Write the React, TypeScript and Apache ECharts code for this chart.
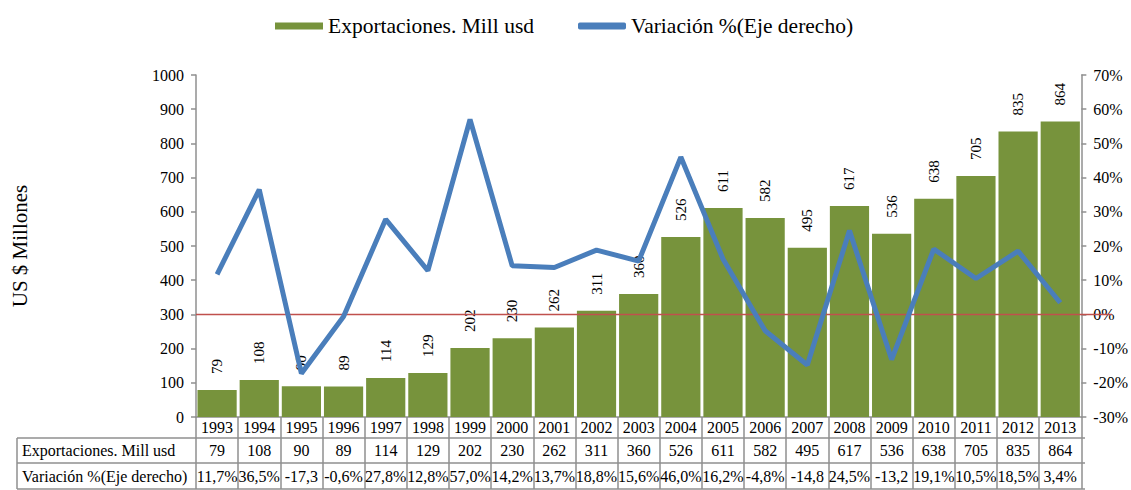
import React, { useEffect, useRef } from 'react';
import * as echarts from 'echarts';

const years = ['1993', '1994', '1995', '1996', '1997', '1998', '1999', '2000', '2001', '2002', '2003', '2004', '2005', '2006', '2007', '2008', '2009', '2010', '2011', '2012', '2013'];
const exportsMill = [79, 108, 90, 89, 114, 129, 202, 230, 262, 311, 360, 526, 611, 582, 495, 617, 536, 638, 705, 835, 864];
const variation = [11.7, 36.5, -17.3, -0.6, 27.8, 12.8, 57.0, 14.2, 13.7, 18.8, 15.6, 46.0, 16.2, -4.8, -14.8, 24.5, -13.2, 19.1, 10.5, 18.5, 3.4];
const barName = 'Exportaciones. Mill usd';
const lineName = 'Variación %(Eje derecho)';
const yTitle = 'US $ Millones';

const FONT = '"Liberation Serif", "Times New Roman", serif';
const GRID_LEFT = 196;
const GRID_RIGHT_X = 1085;
const AXIS_Y = 417;
const ROW2_TOP = 438;
const ROW3_TOP = 463;
const TABLE_BOTTOM = 489;
const TABLE_LEFT = 17;
const BORDER = '#8f8f8f';

function pctText(v: number): string {
  const s = v.toFixed(1).replace('.', ',') + '%';
  return s.length > 5 ? s.slice(0, -1) : s;
}

export default function App() {
  const ref = useRef<HTMLDivElement>(null);
  useEffect(() => {
    if (!ref.current) return;
    const chart = echarts.init(ref.current, null, { renderer: 'svg' });
    chart.setOption({
      animation: false,
      backgroundColor: '#ffffff',
      textStyle: { fontFamily: FONT, color: '#000' },
      legend: {
        left: 275,
        top: 15,
        padding: 0,
        itemWidth: 48,
        itemHeight: 7,
        itemGap: 44,
        textStyle: { fontFamily: FONT, fontSize: 21.5, color: '#000' },
        data: [
          { name: barName, icon: 'rect' },
          { name: lineName, icon: 'roundRect' },
        ],
      },
      grid: { left: GRID_LEFT, right: 1131 - GRID_RIGHT_X, top: 75, bottom: 490 - AXIS_Y },
      xAxis: {
        type: 'category',
        data: years,
        boundaryGap: true,
        axisLine: { lineStyle: { color: BORDER, width: 1.5 } },
        axisTick: { show: true, length: TABLE_BOTTOM - AXIS_Y, alignWithLabel: false, interval: 0, lineStyle: { color: BORDER, width: 1.5 } },
        axisLabel: {
          interval: 0,
          margin: 0,
          fontFamily: FONT,
          color: '#000',
          formatter: (value: string, index: number) =>
            `{y|${value}}\n{v|${exportsMill[index]}}\n{p|${pctText(variation[index])}}`,
          rich: {
            y: { fontFamily: FONT, fontSize: 16, lineHeight: ROW2_TOP - AXIS_Y, color: '#000' },
            v: { fontFamily: FONT, fontSize: 16, lineHeight: ROW3_TOP - ROW2_TOP, color: '#000' },
            p: { fontFamily: FONT, fontSize: 16, lineHeight: TABLE_BOTTOM - ROW3_TOP, color: '#000' },
          },
        },
      },
      yAxis: [
        {
          type: 'value',
          min: 0,
          max: 1000,
          interval: 100,
          name: yTitle,
          nameLocation: 'middle',
          nameRotate: 90,
          nameGap: 166,
          nameTextStyle: { fontFamily: FONT, fontSize: 21, color: '#000' },
          axisLine: { show: true, lineStyle: { color: BORDER, width: 1.5 } },
          axisTick: { show: true, length: 5, lineStyle: { color: BORDER, width: 1.5 } },
          axisLabel: { fontFamily: FONT, fontSize: 16, color: '#000', margin: 12, formatter: (v: number) => String(v) },
          splitLine: { show: false },
        },
        {
          type: 'value',
          min: -30,
          max: 70,
          interval: 10,
          position: 'right',
          axisLine: { show: true, lineStyle: { color: BORDER, width: 1.5 } },
          axisTick: { show: true, length: 5, lineStyle: { color: BORDER, width: 1.5 } },
          axisLabel: { fontFamily: FONT, fontSize: 16, color: '#000', margin: 12, formatter: (v: number) => `${v}%` },
          splitLine: { show: false },
        },
      ],
      series: [
        {
          name: barName,
          type: 'bar',
          data: exportsMill,
          barCategoryGap: '7%',
          itemStyle: { color: '#77933C' },
          z: 2,
          label: {
            show: true,
            position: 'top',
            rotate: 90,
            align: 'left',
            verticalAlign: 'middle',
            distance: 16,
            fontFamily: FONT,
            fontSize: 15,
            color: '#000',
          },
        },
        {
          name: lineName,
          type: 'line',
          yAxisIndex: 1,
          data: variation,
          symbol: 'none',
          showSymbol: false,
          z: 10,
          itemStyle: { color: '#4A7EBB' },
          lineStyle: { color: '#4A7EBB', width: 5 },
        },
      ],
    });

    const zeroY = chart.convertToPixel({ yAxisIndex: 1 }, 0) as number;
    const hLine = (y: number) => ({
      type: 'line',
      z: 5,
      shape: { x1: TABLE_LEFT, y1: y, x2: GRID_RIGHT_X, y2: y },
      style: { stroke: BORDER, lineWidth: 1.5 },
    });
    chart.setOption({
      graphic: [
        {
          type: 'line',
          z: 5,
          shape: { x1: GRID_LEFT, y1: zeroY, x2: 1112, y2: zeroY },
          style: { stroke: '#C0504D', lineWidth: 1.5 },
        },
        hLine(ROW2_TOP),
        hLine(ROW3_TOP),
        hLine(TABLE_BOTTOM),
        {
          type: 'line',
          z: 5,
          shape: { x1: TABLE_LEFT, y1: ROW2_TOP, x2: TABLE_LEFT, y2: TABLE_BOTTOM },
          style: { stroke: BORDER, lineWidth: 1.5 },
        },
        {
          type: 'text',
          z: 5,
          x: 22,
          y: (ROW2_TOP + ROW3_TOP) / 2,
          style: { text: barName, fontFamily: FONT, fontSize: 16, fill: '#000', verticalAlign: 'middle', align: 'left' },
        },
        {
          type: 'text',
          z: 5,
          x: 22,
          y: (ROW3_TOP + TABLE_BOTTOM) / 2,
          style: { text: lineName, fontFamily: FONT, fontSize: 16, fill: '#000', verticalAlign: 'middle', align: 'left' },
        },
      ],
    });

    return () => chart.dispose();
  }, []);

  return (
    <div
      ref={ref}
      style={{ position: 'fixed', left: 0, top: 0, width: 1131, height: 490, background: '#fff' }}
    />
  );
}
